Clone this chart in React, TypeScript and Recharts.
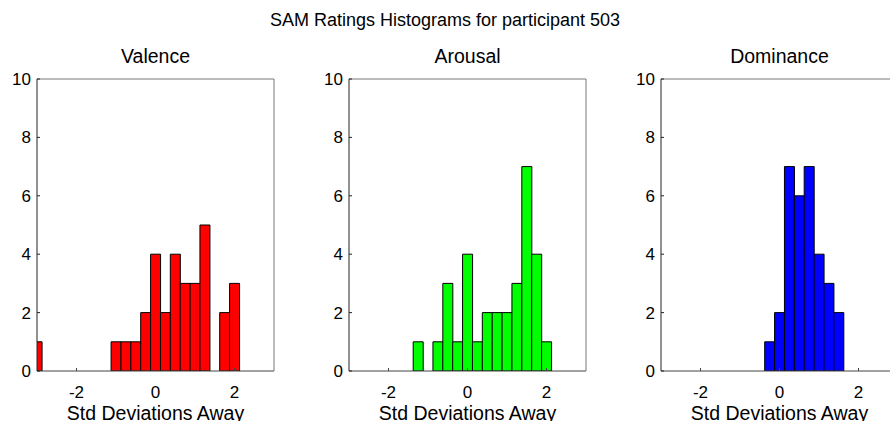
import { BarChart, Bar, XAxis, YAxis } from "recharts";

// histogram bin centres (std deviations), shared by all three panels
const binCenters = [
  -3, -2.75, -2.5, -2.25, -2, -1.75, -1.5, -1.25, -1, -0.75, -0.5, -0.25, 0,
  0.25, 0.5, 0.75, 1, 1.25, 1.5, 1.75, 2,
];

const valenceCounts = [1, 0, 0, 0, 0, 0, 0, 0, 1, 1, 1, 2, 4, 2, 4, 3, 3, 5, 0, 2, 3];
const arousalCounts = [0, 0, 0, 0, 0, 0, 0, 1, 0, 1, 3, 1, 4, 1, 2, 2, 2, 3, 7, 4, 1];
const dominanceCounts = [0, 0, 0, 0, 0, 0, 0, 0, 0, 0, 0, 1, 2, 7, 6, 7, 4, 3, 2, 0, 0];

const xTicks = [-2, 0, 2];
const yTicks = [0, 2, 4, 6, 8, 10];

const FONT = '"Liberation Sans", Arial, Helvetica, sans-serif';
const TICK_STYLE = { fill: "#000", fontSize: 17, fontFamily: FONT };
const LABEL_STYLE = { fill: "#000", fontSize: 19.5, fontFamily: FONT };

interface PanelProps {
  title: string;
  counts: number[];
  color: string;
  left: number;
}

function HistPanel({ title, counts, color, left }: PanelProps) {
  const data = binCenters.map((x, i) => ({ x, n: counts[i] }));
  return (
    <div style={{ position: "absolute", left, top: 0 }}>
      <BarChart
        width={300}
        height={421}
        data={data}
        margin={{ top: 74, right: 21, bottom: 20, left: 0 }}
        barCategoryGap={0}
        barGap={0}
      >
        <XAxis
          xAxisId="bottom"
          dataKey="x"
          type="number"
          domain={[-3, 3]}
          allowDataOverflow
          ticks={xTicks}
          interval={0}
          height={30}
          stroke="#444"
          tickSize={-3}
          tickMargin={18}
          tick={TICK_STYLE}
          label={{
            value: "Std Deviations Away",
            position: "bottom",
            offset: 5,
            style: LABEL_STYLE,
          }}
        />
        <XAxis
          xAxisId="top"
          orientation="top"
          dataKey="x"
          type="number"
          domain={[-3, 3]}
          allowDataOverflow
          ticks={xTicks}
          interval={0}
          height={5}
          stroke="#777"
          tickSize={-3}
          tick={false}
          label={{ value: title, position: "top", offset: 11, style: LABEL_STYLE }}
        />
        <YAxis
          yAxisId="left"
          type="number"
          domain={[0, 10]}
          allowDataOverflow
          ticks={yTicks}
          interval={0}
          width={37}
          stroke="#222"
          tickSize={-3}
          tickMargin={9}
          tick={TICK_STYLE}
        />
        <YAxis
          yAxisId="right"
          orientation="right"
          type="number"
          domain={[0, 10]}
          allowDataOverflow
          ticks={yTicks}
          interval={0}
          width={5}
          stroke="#777"
          tickSize={-3}
          tick={false}
        />
        <Bar
          xAxisId="bottom"
          yAxisId="left"
          dataKey="n"
          fill={color}
          stroke="#000"
          strokeWidth={1}
          isAnimationActive={false}
        />
      </BarChart>
    </div>
  );
}

export default function App() {
  return (
    <div
      style={{
        position: "absolute",
        left: 0,
        top: 0,
        width: 890,
        height: 421,
        overflow: "hidden",
        background: "#fff",
      }}
    >
      <div
        style={{
          position: "absolute",
          left: 0,
          width: 890,
          top: 9,
          textAlign: "center",
          fontFamily: FONT,
          fontSize: 18,
          lineHeight: "22px",
          color: "#000",
        }}
      >
        SAM Ratings Histograms for participant 503
      </div>
      <HistPanel title="Valence" counts={valenceCounts} color="#ff0000" left={0} />
      <HistPanel title="Arousal" counts={arousalCounts} color="#00ff00" left={312} />
      <HistPanel title="Dominance" counts={dominanceCounts} color="#0000ff" left={624} />
    </div>
  );
}
